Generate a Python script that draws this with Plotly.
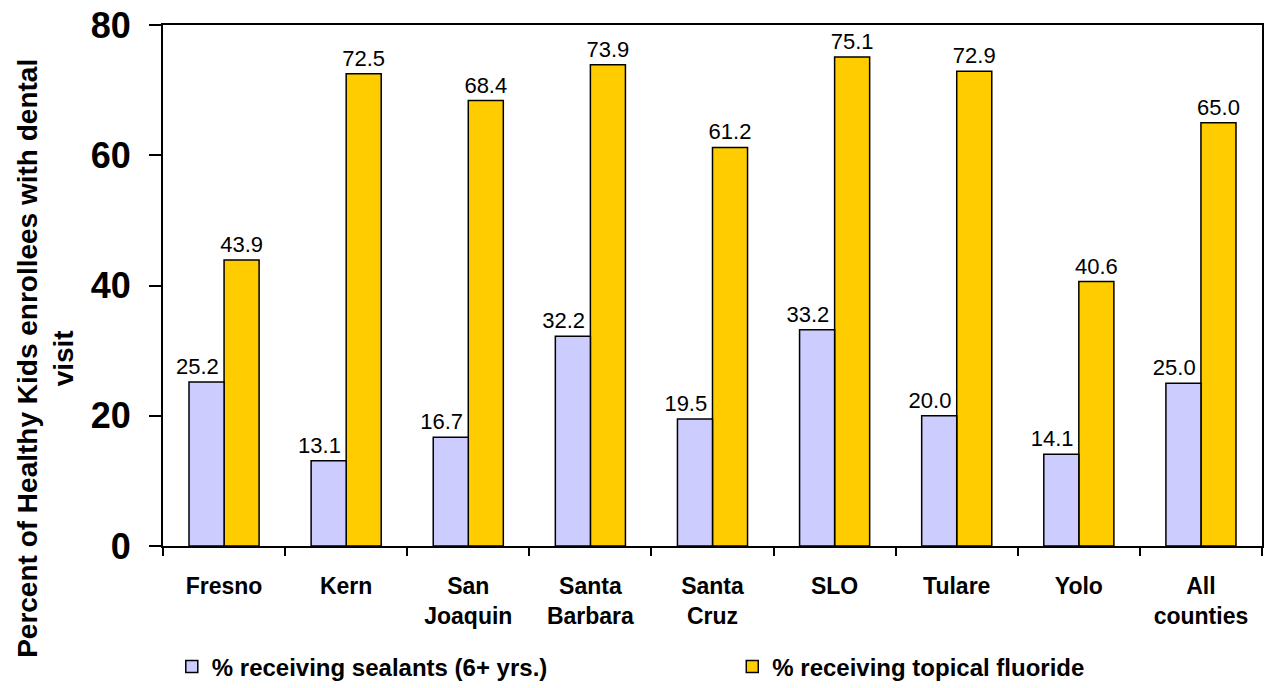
import plotly.graph_objects as go

categories = ["Fresno", "Kern", "San<br>Joaquin", "Santa<br>Barbara", "Santa<br>Cruz",
              "SLO", "Tulare", "Yolo", "All<br>counties"]
sealants = [25.2, 13.1, 16.7, 32.2, 19.5, 33.2, 20.0, 14.1, 25.0]
fluoride = [43.9, 72.5, 68.4, 73.9, 61.2, 75.1, 72.9, 40.6, 65.0]
series_names = ["% receiving sealants (6+ yrs.)", "% receiving topical fluoride"]
y_ticks = [0, 20, 40, 60, 80]

FONT = "Liberation Sans, Arial, sans-serif"
BAR_W = 0.287
NBSP = "\u00a0"

fig = go.Figure()
# fluoride first so that the sealant labels are drawn on top
fig.add_trace(go.Bar(
    x=categories, y=fluoride, name=series_names[1], legend="legend2",
    width=BAR_W, offset=0,
    marker=dict(color="#FFCC00", line=dict(color="black", width=1.5)),
    text=[f"{v:.1f}" for v in fluoride], textposition="outside", constraintext="none",
    textfont=dict(family=FONT, size=22, color="black"), cliponaxis=False,
))
fig.add_trace(go.Bar(
    x=categories, y=sealants, name=series_names[0], legend="legend",
    width=BAR_W, offset=-BAR_W,
    marker=dict(color="#CCCCFF", line=dict(color="black", width=1.5)),
    text=[f"{v:.1f}" + NBSP * 3 for v in sealants], textposition="outside", constraintext="none",
    textfont=dict(family=FONT, size=22, color="black"), cliponaxis=False,
))

legend_font = dict(family=FONT, size=24, color="black", weight="bold")
fig.update_layout(
    width=1268, height=688,
    margin=dict(l=163, r=6, t=25, b=142, autoexpand=False),
    paper_bgcolor="white", plot_bgcolor="white",
    barmode="overlay",
    font=dict(family=FONT, color="black"),
    showlegend=True,
    legend=dict(x=0.008, y=-0.232, xanchor="left", yanchor="middle",
                bgcolor="rgba(0,0,0,0)", font=legend_font),
    legend2=dict(x=0.518, y=-0.232, xanchor="left", yanchor="middle",
                 bgcolor="rgba(0,0,0,0)", font=legend_font),
    xaxis=dict(
        showline=True, linecolor="black", linewidth=2, mirror=True,
        ticks="outside", tickson="boundaries", ticklen=8, tickwidth=2, tickcolor="black",
        tickfont=dict(family=FONT, size=23, color="black", weight="bold"),
        ticklabelstandoff=18, automargin=False,
    ),
    yaxis=dict(
        range=[0, 80], tickvals=y_ticks,
        showline=True, linecolor="black", linewidth=2, mirror=True,
        ticks="outside", ticklen=12, tickwidth=2, tickcolor="black",
        tickfont=dict(family=FONT, size=36, color="black", weight="bold"),
        showgrid=False, zeroline=False, ticklabelstandoff=11, automargin=False,
    ),
    annotations=[dict(
        text="Percent of Healthy Kids enrollees with dental<br>visit",
        xref="paper", yref="paper", x=-0.107, y=0.36,
        xanchor="center", yanchor="middle", textangle=-90, showarrow=False,
        font=dict(family=FONT, size=28, color="black", weight="bold"),
    )],
)

fig.write_html("out.html")
